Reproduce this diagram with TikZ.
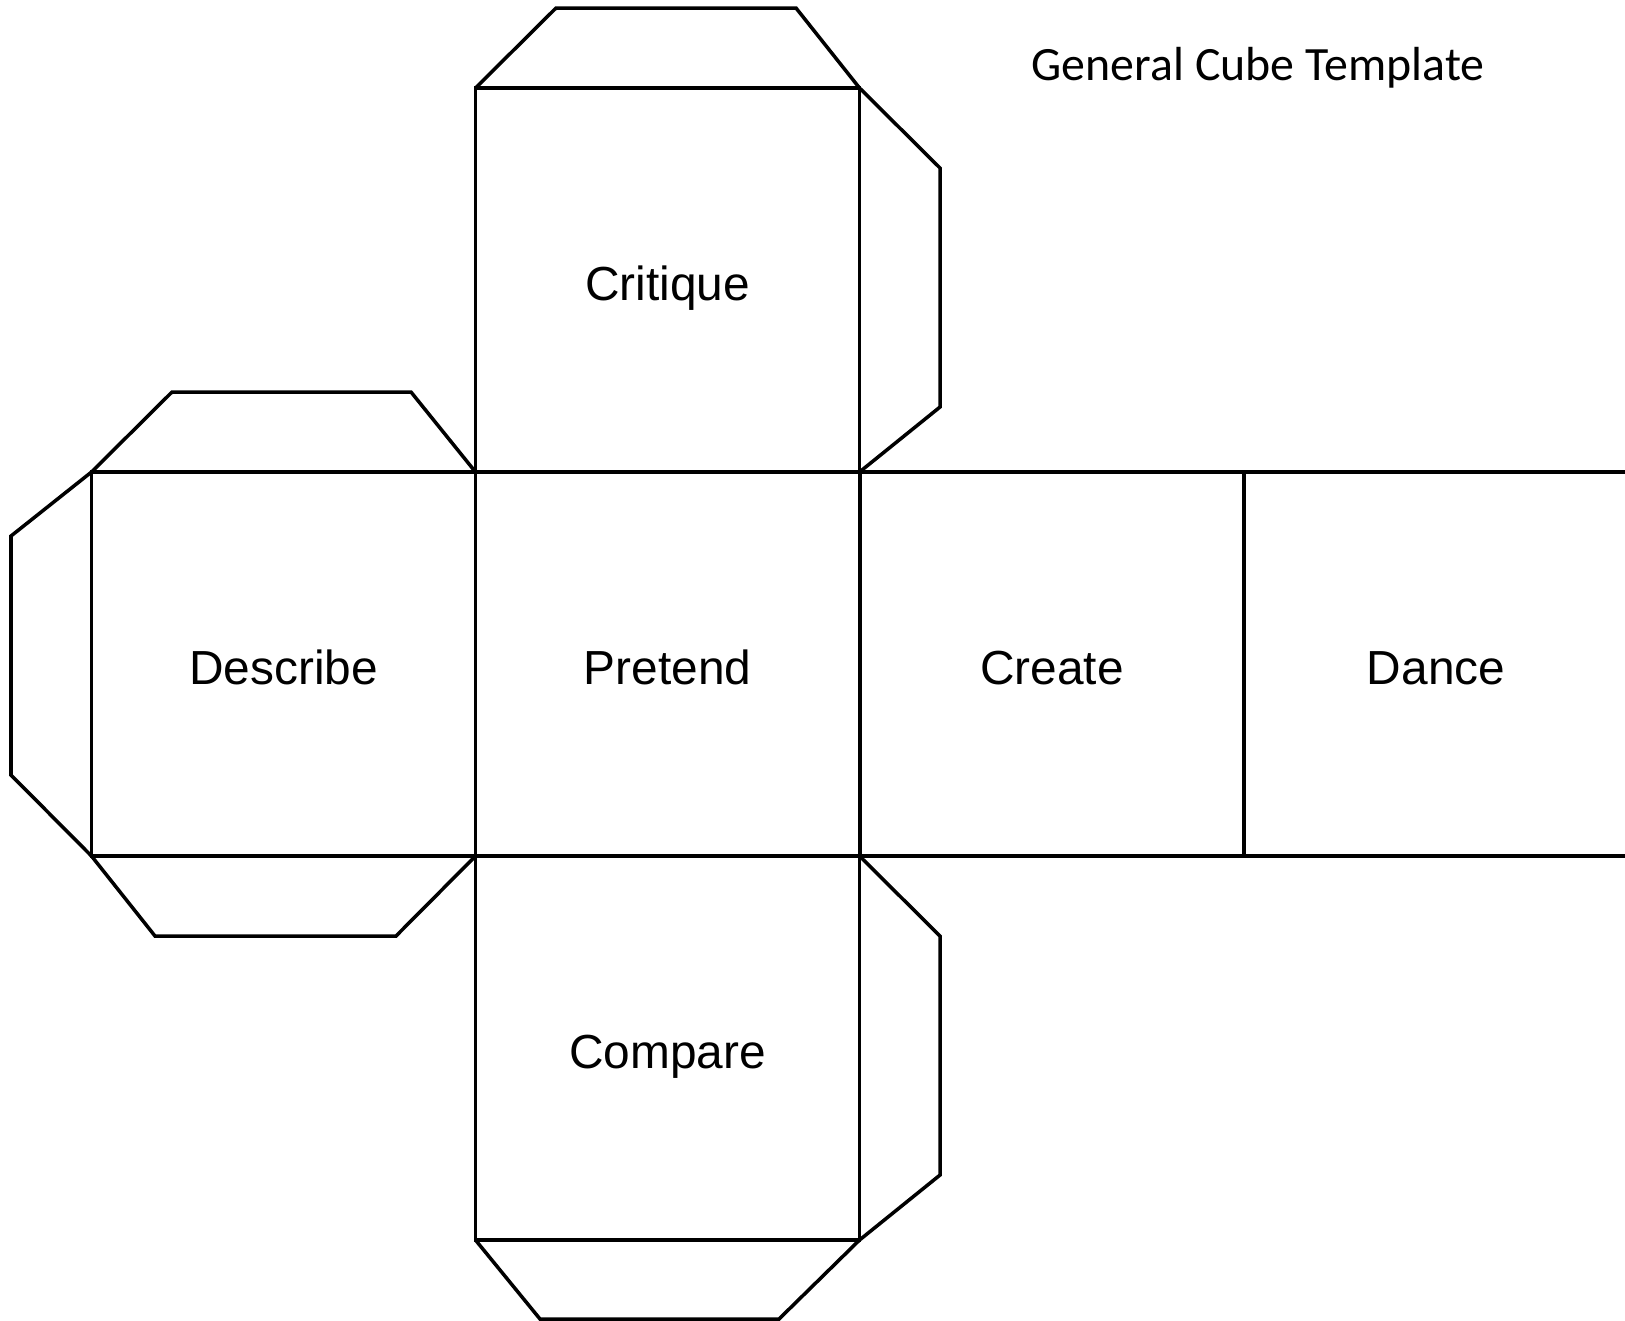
\documentclass[tikz,border=0pt]{standalone}
\usepackage{fontspec}
\setmainfont{Liberation Sans}
\newfontfamily\titlefont{Carlito}
\begin{document}
\begin{tikzpicture}[x=0.01cm,y=-0.01cm,
  face/.style={draw=black,line width=1pt,minimum width=3.84cm,minimum height=3.84cm,inner sep=0pt,outer sep=0pt,text height=11.4pt,text depth=0pt,font=\fontsize{13.6}{16}\selectfont},
  flap/.style={draw=black,line width=1pt,line join=miter}]
\useasboundingbox (0,0) rectangle (1625,1320);
\clip (0,0) rectangle (1625,1320);
\fill[white] (0,0) rectangle (1625,1320);
% faces
\node[face] (critique) at (667.5,280) {Critique};
\node[face] (describe) at (283.5,664) {Describe};
\node[face] (pretend) at (667.5,664) {Pretend};
\node[face] (create) at (1052,664) {Create};
\node[face] (dance) at (1436,664) {Dance};
\node[face] (compare) at (667.5,1048) {Compare};
% flaps
\draw[flap] (475.5,88) -- (556,8) -- (796,8) -- (859.5,88);
\draw[flap] (859.5,88) -- (940,168) -- (940,407) -- (859.5,472);
\draw[flap] (91.5,472) -- (172,392) -- (411,392) -- (475.5,472);
\draw[flap] (91.5,472) -- (11,536) -- (11,775) -- (91.5,856);
\draw[flap] (91.5,856) -- (155,936) -- (396,936) -- (475.5,856);
\draw[flap] (859.5,856) -- (940,936) -- (940,1175) -- (859.5,1240);
\draw[flap] (475.5,1240) -- (540,1319) -- (779,1319) -- (859.5,1240);
% title
\node[font=\titlefont\fontsize{13.6}{16}\selectfont,anchor=base,inner sep=0pt] (title) at (1258,80) {General Cube Template};
\end{tikzpicture}
\end{document}
